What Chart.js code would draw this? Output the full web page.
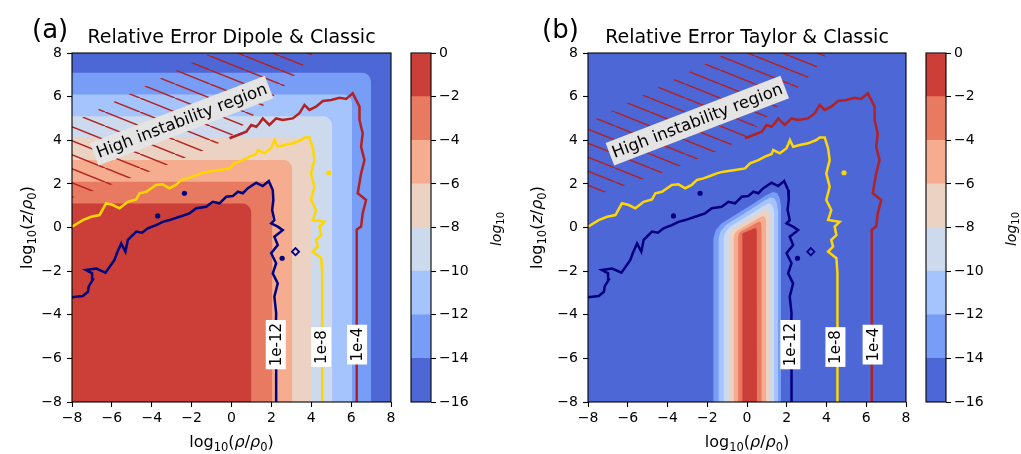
<!DOCTYPE html>
<html>
<head>
<meta charset="utf-8">
<script src="https://cdn.jsdelivr.net/npm/chart.js@4.4.1/dist/chart.umd.min.js"></script>
<style>
  html, body { margin: 0; padding: 0; background: #fff; }
  #wrap { position: relative; width: 1021px; height: 454px; overflow: hidden; }
  #wrap canvas { position: absolute; top: 0; }
</style>
</head>
<body>
<div id="wrap">
  <canvas id="mapA" width="400" height="454" style="left:0px"></canvas>
  <canvas id="barA" width="106" height="454" style="left:400px"></canvas>
  <canvas id="mapB" width="405" height="454" style="left:510px"></canvas>
  <canvas id="barB" width="106" height="454" style="left:915px"></canvas>
</div>
<script>
// axis ticks and colour levels (log10 of relative error)
const rhoTicks = [-8, -6, -4, -2, 0, 2, 4, 6, 8];
const levels = [-16, -14, -12, -10, -8, -6, -4, -2, 0];
const levelColors = ['#4e67d6', '#789df7', '#a5c4fe', '#cdd9ed', '#ecd2c3', '#f6ac8f', '#e97a62', '#cb3f38'];

// (a) dipole: band edges, innermost (-2..0) to outermost (-14..-12)
const dipoleEdgeX = [1.0, 2.05, 3.05, 4.05, 5.05, 6.05, 7.0];
const dipoleEdgeY = [1.1, 2.1, 3.1, 4.1, 5.1, 6.1, 7.1];

// (b) taylor: column bands, innermost to outermost
const taylorLeftX = [-0.25, -0.45, -0.68, -0.92, -1.18, -1.44, -1.7];
const taylorRightX = [0.5, 0.74, 0.97, 1.18, 1.38, 1.56, 1.72];
const taylorShoulderY = [-0.35, -0.4, -0.45, -0.45, -0.5, -0.5, -0.5];
const taylorTopY = [-0.02, 0.27, 0.53, 0.83, 1.12, 1.4, 1.65];

// contour lines (x, y)
const contour12 = [[-8,-3.2],[-7.46,-3.14],[-7.2,-2.95],[-7.16,-2.7],[-6.96,-2.4],[-6.99,-2.1],[-7.3,-1.95],[-6.78,-1.88],[-6.32,-2.07],[-5.87,-1.49],[-5.75,-1.18],[-5.53,-0.73],[-5.32,-1.11],[-5.2,-0.57],[-4.78,-0.19],[-4.48,-0.24],[-4.2,-0.04],[-3.78,0.11],[-3.45,0.26],[-3.11,0.34],[-2.61,0.49],[-2.11,0.65],[-1.77,0.88],[-1.27,0.95],[-0.94,1.18],[-0.6,1.11],[-0.27,1.41],[0.06,1.44],[0.32,1.64],[0.57,1.57],[0.82,1.8],[1.24,2.05],[1.57,1.9],[1.87,2.13],[2.07,1.72],[2.1,1.26],[2.04,0.8],[2.15,0.34],[1.99,0.19],[2.32,0.04],[2.57,-0.12],[2.15,-0.42],[2.32,-0.8],[1.99,-1.18],[2.24,-1.64],[2.07,-2.1],[2.32,-2.56],[2.15,-3.17],[2.24,-3.93],[2.21,-5.0],[2.24,-6.53],[2.24,-8]];
const contour8 = [[-8,0.04],[-7.46,0.34],[-7.04,0.49],[-6.62,0.57],[-6.29,1.11],[-5.95,1.03],[-5.62,0.88],[-5.2,1.18],[-4.78,1.29],[-4.61,1.57],[-4.28,1.64],[-3.78,1.95],[-3.45,1.98],[-3.11,1.8],[-2.78,1.95],[-2.52,2.18],[-2.19,2.25],[-1.86,2.36],[-1.52,2.48],[-1.19,2.56],[-0.6,2.64],[-0.1,2.71],[0.15,2.94],[0.57,3.09],[0.9,3.25],[1.24,3.37],[1.32,3.55],[1.65,3.4],[1.99,3.63],[2.16,4.01],[2.32,3.7],[2.66,3.78],[3.07,3.86],[3.49,4.01],[3.66,4.13],[3.91,4.13],[4.08,3.63],[4.16,3.09],[3.99,2.48],[4.16,1.87],[3.99,1.26],[4.24,0.8],[4.08,0.34],[4.66,0.26],[4.41,0.04],[4.5,-0.35],[4.24,-0.57],[4.33,-0.88],[4.08,-1.11],[4.5,-1.41],[4.55,-2.1],[4.55,-8]];
const contour4 = [[-0.1,4.09],[0.32,4.24],[0.74,4.39],[0.99,4.7],[1.24,4.62],[1.4,4.78],[1.57,5.0],[1.9,4.7],[2.24,5.0],[2.57,4.93],[3.07,5.0],[3.41,5.24],[3.66,5.62],[3.91,5.39],[4.24,5.54],[4.58,5.8],[5.0,5.85],[5.42,5.95],[5.75,5.89],[6.08,6.15],[6.25,5.85],[6.42,5.54],[6.42,4.93],[6.58,4.32],[6.5,3.7],[6.67,3.09],[6.5,2.48],[6.33,1.57],[6.75,1.26],[6.58,0.65],[6.5,0.04],[6.28,-0.1],[6.28,-8]];
const islands12 = [[-2.36,1.57],[-3.7,0.53],[2.54,-1.41]];
const ring12 = [[3.21,-1.11]];
const islands8 = [[4.88,2.51]];

// hatched "high instability" region: upper and lower edges
const unstableTop = [[-8,4.8],[-1,8],[4.1,8]];
const unstableBottom = [[-8,1.35],[-4,2.6],[-1.5,3.5],[-0.1,4.1],[1.5,5.5],[3,6.8],[4.1,8]];

// contour label spots (on the lines)
const labelTexts = ['1e-12', '1e-8', '1e-4'];
const labelXA = [2.22, 4.5, 6.3];
const labelXB = [2.18, 4.45, 6.32];
const labelY = [-5.37, -5.48, -5.37];

Chart.defaults.font.family = 'DejaVu Sans';
Chart.defaults.color = '#000';

const pts = arr => arr.map(p => ({x: p[0], y: p[1]}));
const minus = v => v < 0 ? '\u2212' + Math.abs(v) : String(v);

const F = '"DejaVu Sans"';
const xTitle = [['log', '16px ' + F, 0], ['10', '11.5px ' + F, 4], ['(', '16px ' + F, 0], ['\u03c1', 'italic 16px ' + F, 0],
    ['/', '16px ' + F, 0], ['\u03c1', 'italic 16px ' + F, 0], ['0', '11.5px ' + F, 4], [')', '16px ' + F, 0]];
const yTitle = [['log', '16px ' + F, 0], ['10', '11.5px ' + F, 4], ['(', '16px ' + F, 0], ['z', 'italic 16px ' + F, 0],
    ['/', '16px ' + F, 0], ['\u03c1', 'italic 16px ' + F, 0], ['0', '11.5px ' + F, 4], [')', '16px ' + F, 0]];
const cbTitle = [['log', 'italic 14px ' + F, 0], ['10', '10px ' + F, 3]];

function richText(ctx, segs, cx, baseY) {
    let total = 0;
    segs.forEach(s => { ctx.font = s[1]; total += ctx.measureText(s[0]).width; });
    let xx = cx - total / 2;
    ctx.textAlign = 'left';
    ctx.textBaseline = 'alphabetic';
    segs.forEach(s => {
        ctx.font = s[1];
        ctx.fillText(s[0], xx, baseY + s[2]);
        xx += ctx.measureText(s[0]).width;
    });
}

function roundedBand(ex, ey) {
    const r = 0.45;
    const out = [{x: -8, y: ey}];
    for (let i = 0; i <= 6; i++) {
        const a = i / 6 * Math.PI / 2;
        out.push({x: ex - r + r * Math.sin(a), y: ey - r + r * Math.cos(a)});
    }
    out.push({x: ex, y: -8});
    return out;
}

const shapeU = [0, 0.04, 0.12, 0.6, 0.78, 0.88, 0.94, 0.98, 1];
const shapeV = [0, 0.18, 0.32, 0.75, 0.92, 0.99, 0.97, 0.85, 0.65];
function columnBand(i) {
    const xl = taylorLeftX[i], xr = taylorRightX[i], sy = taylorShoulderY[i], ty = taylorTopY[i];
    const out = [{x: xl, y: -8}];
    shapeU.forEach((u, k) => out.push({x: xl + u * (xr - xl), y: sy + shapeV[k] * (ty - sy)}));
    out.push({x: xr, y: -8});
    return out;
}

function hatch() {
    const c = document.createElement('canvas');
    c.width = 35; c.height = 14;
    const g = c.getContext('2d');
    g.strokeStyle = '#b22222';
    g.lineWidth = 1.5;
    g.beginPath();
    for (const dx of [-35, 0, 35]) { g.moveTo(dx, 0); g.lineTo(dx + 35, 14); }
    g.stroke();
    return g.createPattern(c, 'repeat');
}

const panelDecor = {
    id: 'panelDecor',
    afterDatasetsDraw(chart, args, o) {
        const {ctx, chartArea: a, scales: {x, y}} = chart;
        ctx.save();
        // high instability label
        ctx.translate(x.getPixelForValue(-2.5), y.getPixelForValue(4.9));
        ctx.rotate(-21 * Math.PI / 180);
        ctx.font = '16.5px ' + F;
        let w = ctx.measureText('High instability region').width;
        ctx.fillStyle = '#e4e4e4';
        ctx.fillRect(-w / 2 - 3, -12, w + 6, 24);
        ctx.fillStyle = '#000';
        ctx.textAlign = 'center';
        ctx.textBaseline = 'middle';
        ctx.fillText('High instability region', 0, 1);
        ctx.restore();

        // contour labels
        ctx.save();
        ctx.font = '15px ' + F;
        ctx.textAlign = 'center';
        ctx.textBaseline = 'middle';
        labelTexts.forEach((t, i) => {
            ctx.save();
            ctx.translate(x.getPixelForValue(o.labelX[i]), y.getPixelForValue(labelY[i]));
            ctx.rotate(-Math.PI / 2);
            const tw = ctx.measureText(t).width;
            ctx.fillStyle = '#fff';
            ctx.fillRect(-tw / 2 - 3, -10, tw + 6, 20);
            ctx.fillStyle = '#000';
            ctx.fillText(t, 0, 1);
            ctx.restore();
        });
        ctx.restore();

        // frame
        ctx.save();
        ctx.strokeStyle = '#000';
        ctx.lineWidth = 1.1;
        ctx.strokeRect(a.left, a.top, a.right - a.left, a.bottom - a.top);
        ctx.fillStyle = '#000';
        // title and panel letter
        ctx.textBaseline = 'alphabetic';
        ctx.textAlign = 'center';
        ctx.font = '19px ' + F;
        ctx.fillText(o.title, (a.left + a.right) / 2, 43);
        ctx.textAlign = 'left';
        ctx.font = '26px ' + F;
        ctx.fillText(o.letter, 32, 38);
        // axis titles
        richText(ctx, xTitle, (a.left + a.right) / 2, 447);
        ctx.translate(32, (a.top + a.bottom) / 2);
        ctx.rotate(-Math.PI / 2);
        richText(ctx, yTitle, 0, 0);
        ctx.restore();
    }
};

const barDecor = {
    id: 'barDecor',
    afterDatasetsDraw(chart) {
        const {ctx, chartArea: a} = chart;
        ctx.save();
        ctx.strokeStyle = '#000';
        ctx.lineWidth = 1.1;
        ctx.strokeRect(a.left, a.top, a.right - a.left, a.bottom - a.top);
        ctx.translate(101, 229);
        ctx.rotate(-Math.PI / 2);
        ctx.fillStyle = '#000';
        richText(ctx, cbTitle, 0, 0);
        ctx.restore();
    }
};

function mapChart(id, bands, title, letter, labelX, yAxisWidth) {
    const pattern = hatch();
    const lineSet = (data, color) => ({data: pts(data), borderColor: color, borderWidth: 2.5, pointRadius: 0, fill: false});
    const dotSet = (data, color, style, r, hollow) => ({
        data: pts(data), showLine: false, pointStyle: style, pointRadius: r,
        backgroundColor: hollow ? 'rgba(0,0,0,0)' : color, borderColor: color, borderWidth: hollow ? 1.8 : 0
    });
    const datasets = [
        lineSet(contour12, '#000080'),
        lineSet(contour8, '#ffd700'),
        lineSet(contour4, '#b22222'),
        dotSet(islands12, '#000080', 'circle', 2.6, false),
        dotSet(ring12, '#000080', 'rectRot', 3.6, true),
        dotSet(islands8, '#ffd700', 'circle', 2.6, false),
        {data: pts(unstableTop), borderWidth: 0, pointRadius: 0, fill: '+1', backgroundColor: pattern},
        {data: pts(unstableBottom), borderWidth: 0, pointRadius: 0, fill: false}
    ];
    bands.forEach((b, i) => datasets.push({
        data: b, borderWidth: 0, pointRadius: 0, fill: 'start', backgroundColor: levelColors[7 - i]
    }));
    datasets.push({data: [{x: -8, y: 8}, {x: 8, y: 8}], borderWidth: 0, pointRadius: 0, fill: 'start', backgroundColor: levelColors[0]});

    const axis = isX => ({
        type: 'linear', min: -8, max: 8,
        afterBuildTicks: s => { s.ticks = rhoTicks.map(v => ({value: v})); },
        ticks: {font: {size: 14}, padding: isX ? 3 : 5, callback: minus},
        grid: {drawOnChartArea: false, drawTicks: true, tickLength: 5, color: '#000', tickWidth: 1.1},
        border: {display: false},
        afterFit: s => { if (isX) s.height = 52; else s.width = yAxisWidth; }
    });

    return new Chart(document.getElementById(id), {
        type: 'line',
        data: {datasets},
        options: {
            responsive: false,
            animation: false,
            layout: {padding: {left: 0, right: 9, top: 53, bottom: 0}},
            plugins: {
                legend: {display: false},
                tooltip: {enabled: false},
                panelDecor: {title, letter, labelX}
            },
            scales: {x: axis(true), y: axis(false)}
        },
        plugins: [panelDecor]
    });
}

function barChart(id) {
    const datasets = levelColors.map((c, i) => ({
        data: [[levels[i], levels[i + 1]]], backgroundColor: c, borderWidth: 0,
        barPercentage: 1, categoryPercentage: 1, grouped: false
    }));
    return new Chart(document.getElementById(id), {
        type: 'bar',
        data: {labels: [''], datasets},
        options: {
            responsive: false,
            animation: false,
            layout: {padding: {left: 11, right: 0, top: 53, bottom: 52}},
            plugins: {legend: {display: false}, tooltip: {enabled: false}},
            scales: {
                x: {display: false},
                y: {
                    position: 'right', min: -16, max: 0,
                    afterBuildTicks: s => { s.ticks = levels.map(v => ({value: v})); },
                    ticks: {font: {size: 14}, padding: 3, callback: minus},
                    grid: {drawOnChartArea: false, tickLength: 5, color: '#000', tickWidth: 1.1},
                    border: {display: false},
                    afterFit: s => { s.width = 75; }
                }
            }
        },
        plugins: [barDecor]
    });
}

const dipoleBands = dipoleEdgeX.map((ex, i) => roundedBand(ex, dipoleEdgeY[i]));
const taylorBands = taylorLeftX.map((_, i) => columnBand(i));

mapChart('mapA', dipoleBands, 'Relative Error Dipole & Classic', '(a)', labelXA, 72);
barChart('barA');
mapChart('mapB', taylorBands, 'Relative Error Taylor & Classic', '(b)', labelXB, 78);
barChart('barB');
</script>
</body>
</html>
